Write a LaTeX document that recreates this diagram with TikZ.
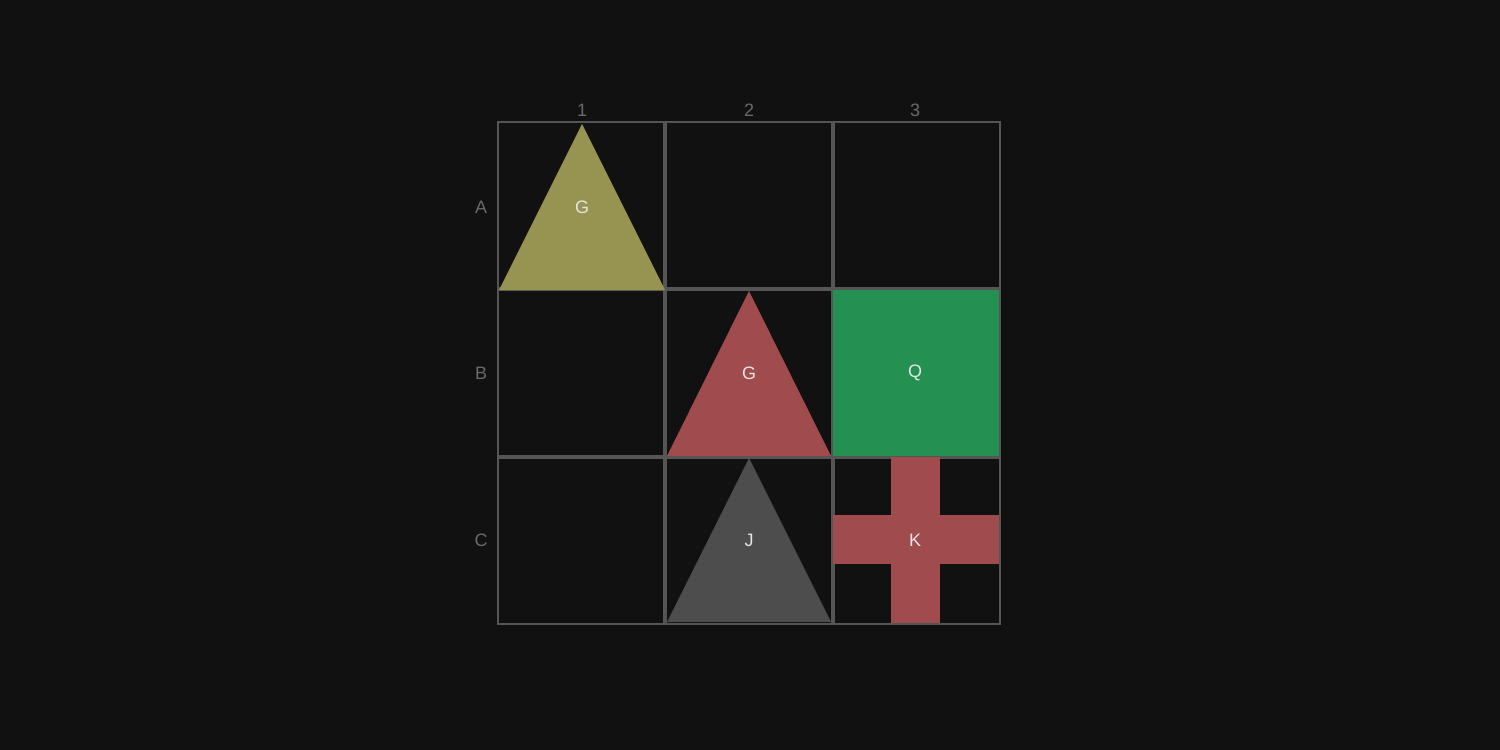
\documentclass[tikz,border=0pt]{standalone}
\usepackage{fontspec}
\setmainfont{Liberation Sans}
\definecolor{bgcol}{HTML}{111111}
\definecolor{gridcol}{HTML}{555555}
\definecolor{axiscol}{HTML}{6A6A6A}
\definecolor{olivecol}{HTML}{979452}
\definecolor{redcol}{HTML}{A04B4E}
\definecolor{greencol}{HTML}{249152}
\definecolor{graycol}{HTML}{4D4D4D}
\tikzset{
  cell/.style = {draw = gridcol, line width = 2pt},
  axislabel/.style = {text = axiscol, font = \fontsize{18}{20}\selectfont},
  piecelabel/.style = {text = white!80!gray, font = \fontsize{18}{20}\selectfont}
}
\begin{document}
\begin{tikzpicture}[x = 1pt, y = -1pt]
	\fill[bgcol] (0,0) rectangle (1500,750);
	% board
	\foreach \r in {0,1,2}
		\foreach \c in {0,1,2}
			\draw[cell] ({498+\c*168},{122+\r*168}) rectangle ++(166,166);
	% pieces
	\fill[olivecol] (499,290) -- (582,124) -- (665,290) -- cycle;
	\fill[redcol] (667,456) -- (749,291) -- (831,456) -- cycle;
	\fill[greencol] (833,290) rectangle (999,456);
	\fill[graycol] (667,622) -- (749,458) -- (831,622) -- cycle;
	\fill[redcol] (833,515) rectangle (999,564);
	\fill[redcol] (891,457) rectangle (940,623);
	% labels
	\node[axislabel] (col1) at (582,110) {1};
	\node[axislabel] (col2) at (749,110) {2};
	\node[axislabel] (col3) at (915,110) {3};
	\node[axislabel] (rowA) at (481,207) {A};
	\node[axislabel] (rowB) at (481,373) {B};
	\node[axislabel] (rowC) at (481,540) {C};
	\node[piecelabel] (pA1) at (582,207) {G};
	\node[piecelabel] (pB2) at (749,373) {G};
	\node[piecelabel] (pB3) at (915,373) {Q};
	\node[piecelabel] (pC2) at (749,540) {J};
	\node[piecelabel] (pC3) at (915,540) {K};
\end{tikzpicture}
\end{document}
